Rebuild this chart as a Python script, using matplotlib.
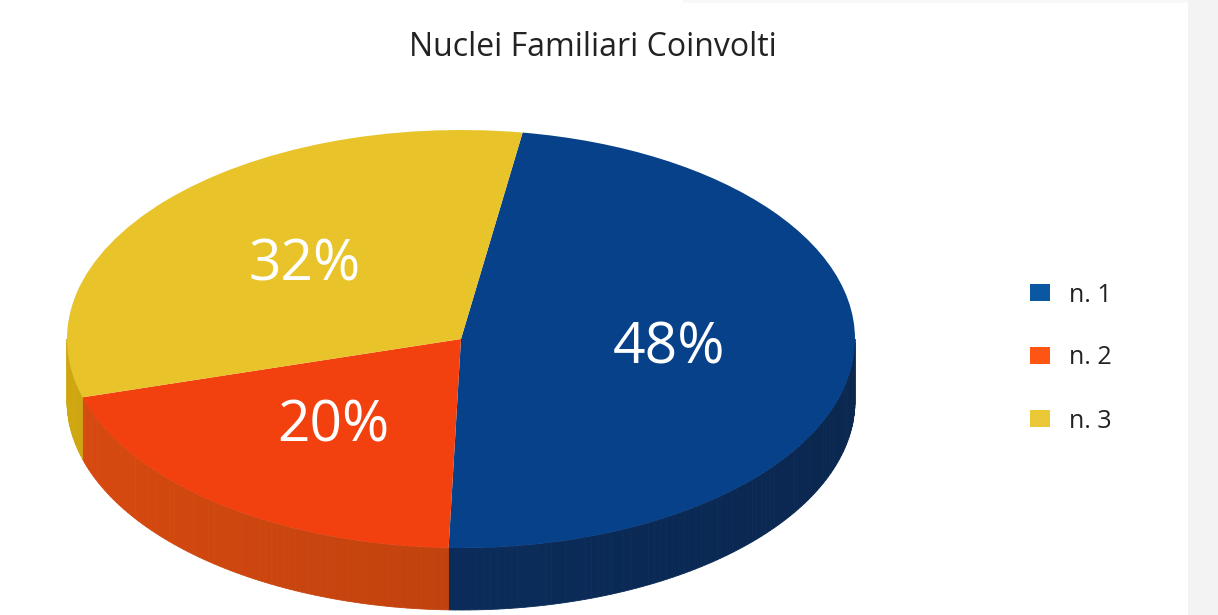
import numpy as np
import matplotlib.pyplot as plt
from matplotlib.patches import Polygon, Rectangle, Patch
from matplotlib.colors import to_rgb

title = "Nuclei Familiari Coinvolti"
labels = ["n. 1", "n. 2", "n. 3"]
shares = [48, 20, 32]
top_colors = ["#06418a", "#f2400e", "#e8c42a"]
side_colors = ["#0b2c5a", "#c0420e", "#b8950f"]
legend_colors = ["#0b58a2", "#ff5512", "#ebc838"]

W, H = 1218, 615
cx, cy = 461, 276      # centre of the pie top, pixels from bottom-left
rx, ry = 394, 209      # ellipse half-axes in pixels
depth = 62 / ry        # thickness of the disc in pie units
start = 81

plt.rcParams["font.family"] = ["Open Sans", "DejaVu Sans"]

fig = plt.figure(figsize=(W / 100, H / 100), dpi=100)
fig.patch.set_facecolor("white")
fig.add_artist(Rectangle((1188 / W, 0), 30 / W, 1, transform=fig.transFigure,
                         facecolor="#f3f3f3", edgecolor="none", zorder=0))
fig.add_artist(Rectangle((683 / W, 1 - 3 / H), 505 / W, 3 / H, transform=fig.transFigure,
                         facecolor="#f8f8f8", edgecolor="none", zorder=0))

ax = fig.add_axes([0, 0, 1, 1])
ax.patch.set_alpha(0)

# top face
wedges, _, pcts = ax.pie(shares, colors=top_colors, startangle=start, counterclock=False,
                         radius=1, autopct="%d%%", pctdistance=0.53,
                         textprops=dict(color="white", fontsize=41),
                         wedgeprops=dict(linewidth=0, zorder=3))
for t in pcts:
    t.set_zorder(4)

# side of the disc: only the front half (angles -180..0) is visible
bounds = start - np.concatenate([[0], np.cumsum(shares)]) * 3.6
for i, col in enumerate(side_colors):
    a1, a0 = bounds[i + 1], bounds[i]
    lo, hi = max(a1, -180), min(a0, 0)
    if lo >= hi:
        continue
    angs = np.linspace(lo, hi, max(int(hi - lo), 2) + 1)
    base = np.array(to_rgb(col))
    for t0, t1 in zip(angs[:-1], angs[1:]):
        tm = np.radians((t0 + t1) / 2)
        f = 1.0 + 0.12 * (-np.cos(tm))
        c = np.clip(base * f, 0, 1)
        r0, r1 = np.radians(t0), np.radians(t1)
        pts = [(np.cos(r0), np.sin(r0)), (np.cos(r1), np.sin(r1)),
               (np.cos(r1), np.sin(r1) - depth), (np.cos(r0), np.sin(r0) - depth)]
        ax.add_patch(Polygon(pts, closed=True, facecolor=c, edgecolor=c,
                             linewidth=0.6, zorder=2))

ax.set_aspect("auto")
ax.set_xlim(-cx / rx, (W - cx) / rx)
ax.set_ylim(-cy / ry, (H - cy) / ry)
ax.axis("off")

fig.text(593 / W, 1 - 47 / H, title, ha="center", va="center", fontsize=23, color="#222222")

handles = [Patch(facecolor=c, edgecolor="none") for c in legend_colors]
fig.legend(handles, labels, loc="center left", bbox_to_anchor=(1030 / W, 1 - 358 / H),
           frameon=False, fontsize=18, handlelength=0.8, handleheight=0.68,
           handletextpad=0.76, labelspacing=1.52, borderpad=0, borderaxespad=0,
           labelcolor="#222222")

fig.savefig("out.png", dpi=100, facecolor="white")
